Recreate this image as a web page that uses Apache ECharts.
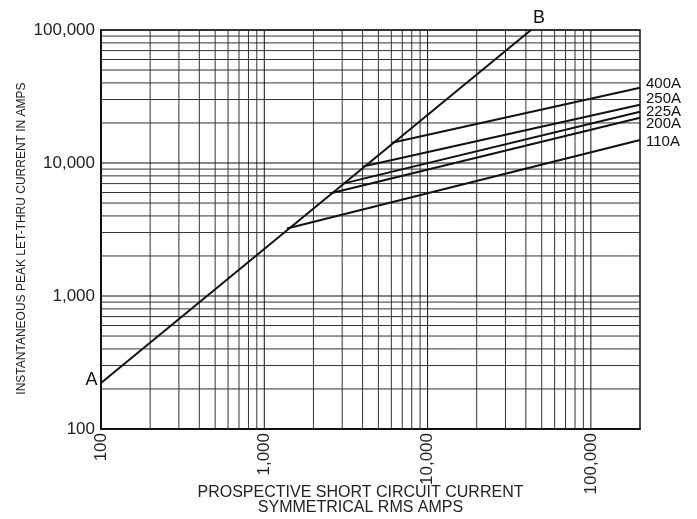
<!DOCTYPE html>
<html>
<head>
<meta charset="utf-8">
<script src="https://cdn.jsdelivr.net/npm/echarts@6/dist/echarts.min.js"></script>
<style>html,body{margin:0;padding:0;background:#fff}#c{width:697px;height:519px}</style>
</head>
<body>
<div id="c"></div>
<script>
// ---- data ----
const xTickLabels = [100, 1000, 10000, 100000];
const yTickLabels = [100, 1000, 10000, 100000];
const xGridMajor = [1000, 10000, 100000];
const xGridMinor = [200,300,400,500,600,700,800,900,2000,3000,4000,5000,6000,7000,8000,9000,20000,30000,40000,50000,60000,70000,80000,90000];
const yGridMajor = [1000, 10000, 100000];
const yGridMinor = [200,300,400,500,600,700,800,900,2000,3000,4000,5000,6000,7000,8000,9000,20000,30000,40000,50000,60000,70000,80000,90000];
const lineA = [100, 222];
const lineB = [43000, 100000];
const fuseNames = ['400A', '250A', '225A', '200A', '110A'];
const fuseStartX = [6050, 4020, 3030, 2520, 1377];
const fuseStartY = [14200, 9400, 7000, 5890, 3220];
const fuseEndX = 200000;
const fuseEndY = [36800, 27400, 24300, 21900, 14900];
const fuseLabelOffsetY = [-4, -6, 0, 6, 2];

const X_MIN = 100, X_MAX = 200000, Y_MIN = 100, Y_MAX = 100000;
const FONT = '"Liberation Sans", Arial, Helvetica, sans-serif';

const series = [];
function gridLine(pts, color) {
  series.push({type: 'line', data: pts, symbol: 'none', silent: true, z: 1,
    lineStyle: {color: color, width: 1}, animation: false});
}
xGridMinor.forEach(v => gridLine([[v, Y_MIN], [v, Y_MAX]], '#333'));
yGridMinor.forEach(v => gridLine([[X_MIN, v], [X_MAX, v]], '#333'));
xGridMajor.forEach(v => gridLine([[v, Y_MIN], [v, Y_MAX]], '#111'));
yGridMajor.forEach(v => gridLine([[X_MIN, v], [X_MAX, v]], '#111'));

series.push({
  type: 'line', symbol: 'circle', symbolSize: 1, showSymbol: true, z: 5, animation: false,
  clip: false,
  itemStyle: {color: '#111'},
  lineStyle: {color: '#111', width: 2},
  data: [
    {value: lineA, label: {show: true, formatter: 'A', position: 'left', distance: 3, offset: [0, -3], fontSize: 18, color: '#111', fontFamily: FONT}},
    {value: lineB, label: {show: true, formatter: 'B', position: 'top', distance: 2, offset: [8, 0], fontSize: 18, color: '#111', fontFamily: FONT}}
  ]
});

fuseNames.forEach((n, i) => {
  series.push({
    type: 'line', name: n, symbol: 'none', z: 5, animation: false,
    lineStyle: {color: '#111', width: 2},
    data: [[fuseStartX[i], fuseStartY[i]], [fuseEndX, fuseEndY[i]]],
    endLabel: {show: true, formatter: n, distance: 6, offset: [0, fuseLabelOffsetY[i]], fontSize: 15, color: '#111', fontFamily: FONT}
  });
});

const chart = echarts.init(document.getElementById('c'));
chart.setOption({
  animation: false,
  backgroundColor: '#fff',
  grid: {left: 101, top: 30, right: 57, bottom: 90, show: true, borderColor: '#111', borderWidth: 1.5,
    outerBoundsMode: 'none', containLabel: false},
  xAxis: {
    type: 'log', logBase: 10, min: X_MIN, max: X_MAX,
    name: 'PROSPECTIVE SHORT CIRCUIT CURRENT\nSYMMETRICAL RMS AMPS',
    nameLocation: 'middle', nameGap: 56, nameMoveOverlap: false,
    nameTextStyle: {fontSize: 16, color: '#222', fontFamily: FONT, lineHeight: 15, padding: [0, 20, 0, 0]},
    axisLine: {show: true, lineStyle: {color: '#111', width: 2}},
    axisTick: {show: false},
    splitLine: {show: false},
    axisLabel: {
      rotate: 90, margin: 4, fontSize: 17, color: '#222', fontFamily: FONT,
      showMaxLabel: false,
      formatter: v => xTickLabels.indexOf(v) >= 0 ? v.toLocaleString('en-US') : ''
    }
  },
  yAxis: {
    type: 'log', logBase: 10, min: Y_MIN, max: Y_MAX,
    name: 'INSTANTANEOUS PEAK LET-THRU CURRENT IN AMPS',
    nameLocation: 'middle', nameGap: 73, nameMoveOverlap: false,
    nameTextStyle: {fontSize: 12, color: '#222', fontFamily: FONT, padding: [0, 18, 0, 0]},
    axisLine: {show: true, lineStyle: {color: '#111', width: 2}},
    axisTick: {show: false},
    splitLine: {show: false},
    axisLabel: {
      margin: 6, fontSize: 17, color: '#222', fontFamily: FONT,
      formatter: v => yTickLabels.indexOf(v) >= 0 ? v.toLocaleString('en-US') : ''
    }
  },
  series: series
});
</script>
</body>
</html>
